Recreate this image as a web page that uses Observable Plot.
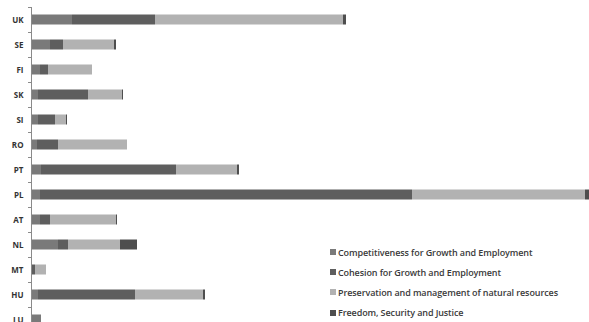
<!DOCTYPE html>
<html><head><meta charset="utf-8">
<script src="https://cdn.jsdelivr.net/npm/d3@7"></script>
<script src="https://cdn.jsdelivr.net/npm/@observablehq/plot@0.6"></script>
<style>
body{margin:0;background:#fff;}
#wrap{position:relative;width:589px;height:322px;overflow:hidden;}
#legend{position:absolute;left:330px;top:242px;font-family:"Open Sans",sans-serif;font-size:9px;font-weight:600;color:#3a3a3a;letter-spacing:-0.1px;}
.item{display:flex;align-items:center;height:20.2px;white-space:nowrap;}
.sw{width:6px;height:6px;margin-right:2px;flex:none;}
</style></head><body><div id="wrap"></div>
<script>
const countries = ["UK","SE","FI","SK","SI","RO","PT","PL","AT","NL","MT","HU","LU"];
const seriesNames = ["Competitiveness for Growth and Employment","Cohesion for Growth and Employment","Preservation and management of natural resources","Freedom, Security and Justice"];
const competitiveness = [40,18,8,6,6,5,9,8,8,26,0,6,9];
const cohesion =        [83,13,8,50,17,21,135,372,10,10,3,97,0];
const preservation =    [188,51,44,34,11,69,61,173,66,52,11,68,0];
const freedom =         [3,2,0,1,1,0,2,4,1,17,0,2,0];
const colors = ["#7a7a7a","#5e5e5e","#b2b2b2","#4e4e4e"];

const seriesValues = [competitiveness, cohesion, preservation, freedom];
const rows = [];
countries.forEach((c, i) => seriesValues.forEach((arr, j) => rows.push({country: c, series: seriesNames[j], value: arr[i]})));

const chart = Plot.plot({
  width: 589, height: 322,
  marginLeft: 32, marginRight: 0, marginTop: 7, marginBottom: 0,
  x: {axis: null, label: null},
  y: {domain: countries, range: [7, 332], paddingInner: 0.6, paddingOuter: 0.3, round: false, axis: null, label: null},
  color: {domain: seriesNames, range: colors},
  style: {fontFamily: "'Open Sans', sans-serif", background: "#fff"},
  marks: [
    Plot.barX(rows, {x: "value", y: "country", fill: "series"}),
    Plot.ruleX([0], {stroke: "#8a8a8a", dx: -1}),
    Plot.axisY({tickSize: 3, dy: 12.5, dx: -1, text: null, label: null, stroke: "#8a8a8a"}),
    Plot.axisY({ticks: [countries[0]], tickSize: 3, dy: -12.5, dx: -1, text: null, label: null, stroke: "#8a8a8a"}),
    Plot.axisY({tickSize: 0, tickPadding: 9, label: null, fontWeight: "bold", fontSize: 8, fill: "#333"})
  ]
});
const wrap = document.getElementById("wrap");
wrap.appendChild(chart);
const legend = document.createElement("div");
legend.id = "legend";
seriesNames.forEach((n, i) => {
  const it = document.createElement("div");
  it.className = "item";
  const sw = document.createElement("span");
  sw.className = "sw"; sw.style.background = colors[i];
  const t = document.createElement("span"); t.textContent = n;
  it.appendChild(sw); it.appendChild(t);
  legend.appendChild(it);
});
wrap.appendChild(legend);
</script></body></html>
